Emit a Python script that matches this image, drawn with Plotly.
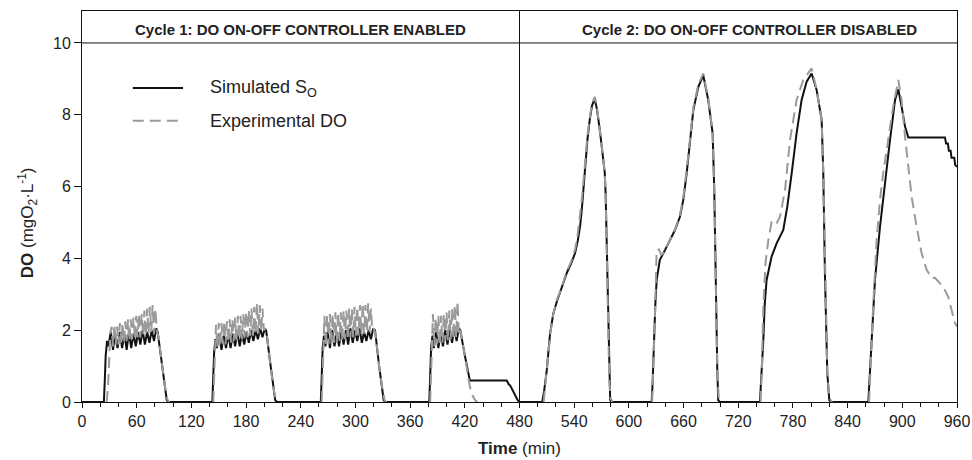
import plotly.graph_objects as go

# ---------------- data ----------------
sim_t = [
    0, 24, 25, 26, 27.5, 29, 31.5, 34, 36.5, 39, 41.5, 44, 46.5, 49, 51.5, 54, 56.5, 59, 61.5, 64, 66.5, 69, 71.5, 74, 76.5, 79, 81.5, 83, 88, 93, 95,
    143, 144, 145, 146.5, 148, 150.5, 153, 155.5, 158, 160.5, 163, 165.5, 168, 170.5, 173, 175.5, 178, 180.5, 183, 185.5, 188, 190.5, 193, 195.5, 198, 200.5, 202, 207, 212, 214,
    262, 263, 264, 265.5, 267, 269.5, 272, 274.5, 277, 279.5, 282, 284.5, 287, 289.5, 292, 294.5, 297, 299.5, 302, 304.5, 307, 309.5, 312, 314.5, 317, 319.5, 321.5, 326, 331, 333,
    381, 382, 383, 384.5, 386, 388.5, 391, 393.5, 396, 398.5, 401, 403.5, 406, 408.5, 411, 413.5, 415, 420, 425.5, 466, 468, 470, 473, 476, 478, 480,
    505, 507, 510, 513.5, 517, 521, 524.5, 528, 532, 536.5, 541, 544, 546.5, 548.5, 550, 552, 554.5, 557, 559.5, 562.5, 565, 568, 571, 573.5, 574.5, 575.5, 576.5, 577.5, 578.5, 579.5, 581,
    625, 626, 627.5, 629, 630.5, 634, 639.6, 645, 650.6, 656, 659.7, 663.4, 667, 670.7, 676.2, 681.6, 687.1, 691.9, 693.7, 695.6, 697, 698, 700,
    743.8, 745, 747.5, 749, 751.1, 756.6, 762.1, 769.4, 773.8, 778.6, 784, 789.5, 795, 800.5, 806, 811.5, 813.3, 815.1, 817.7, 819.9, 822,
    862.7, 864, 866.3, 870, 875.5, 881, 886.5, 892, 895.6, 899.2, 903, 906.6, 946.8, 948, 950, 951, 953, 954, 957, 958, 960,
]
sim_do = [
    0, 0, 0.6, 1.3, 1.7, 1.55, 1.95, 1.45, 1.9, 1.5, 1.95, 1.5, 1.9, 1.45, 1.95, 1.5, 1.9, 1.55, 1.95, 1.6, 2.0, 1.6, 1.95, 1.65, 2.0, 1.7, 2.05, 1.95, 1.0, 0.05, 0,
    0, 0.7, 1.4, 1.75, 1.5, 1.9, 1.45, 1.85, 1.5, 1.9, 1.5, 1.9, 1.55, 1.95, 1.55, 1.9, 1.6, 1.95, 1.65, 2.0, 1.7, 2.0, 1.75, 2.05, 1.8, 2.05, 2.0, 1.0, 0.05, 0,
    0, 0.7, 1.5, 1.85, 1.55, 1.95, 1.5, 2.0, 1.55, 1.95, 1.55, 2.0, 1.6, 2.0, 1.6, 2.05, 1.65, 2.0, 1.7, 2.05, 1.65, 1.95, 1.7, 2.0, 1.75, 2.05, 2.0, 1.0, 0.05, 0,
    0, 0.7, 1.5, 1.85, 1.5, 1.95, 1.5, 1.95, 1.55, 2.0, 1.6, 2.0, 1.65, 2.05, 1.7, 2.05, 2.0, 1.3, 0.6, 0.6, 0.5, 0.45, 0.3, 0.15, 0.05, 0,
    0, 0.3, 0.9, 1.9, 2.45, 2.8, 3.05, 3.3, 3.6, 3.85, 4.15, 4.5, 4.9, 5.4, 5.9, 6.6, 7.3, 7.85, 8.25, 8.45, 8.15, 7.6, 7.0, 6.4, 5.8, 4.6, 3.1, 1.7, 0.6, 0.05, 0,
    0, 0.5, 1.73, 2.7, 3.4, 3.96, 4.23, 4.5, 4.79, 5.16, 5.63, 6.37, 7.3, 8.13, 8.78, 9.1, 8.41, 7.48, 5.9, 2.66, 0.9, 0.05, 0,
    0, 0.5, 1.73, 2.7, 3.4, 4.05, 4.42, 4.79, 5.44, 6.37, 7.48, 8.41, 8.92, 9.15, 8.69, 7.86, 6.37, 3.58, 0.8, 0.05, 0,
    0, 0.6, 1.73, 3.4, 4.88, 6.18, 7.3, 8.41, 8.71, 8.23, 7.67, 7.37, 7.37, 7.2, 7.2, 7.0, 7.0, 6.8, 6.8, 6.6, 6.55,
]

exp_t = [
    27, 28.5, 30, 31, 32.5, 34, 35.5, 37, 38.5, 40, 41.5, 43, 44.5, 46, 47.5, 49, 50.5, 52, 53.5, 55, 56.5, 58, 59.5, 61, 62.5, 64, 65.5, 67, 68.5, 70, 71.5, 73, 74.5, 76, 77.5, 79, 80.5, 82, 84, 88, 92, 94, 96, None,
    144, 145, 146, 147, 148.5, 150, 151.5, 153, 154.5, 156, 157.5, 159, 160.5, 162, 163.5, 165, 166.5, 168, 169.5, 171, 172.5, 174, 175.5, 177, 178.5, 180, 181.5, 183, 184.5, 186, 187.5, 189, 190.5, 192, 193.5, 195, 196.5, 198, 199.5, 201, 203, 207, 211, 213, 215, None,
    263, 264, 265, 266, 267.5, 269, 270.5, 272, 273.5, 275, 276.5, 278, 279.5, 281, 282.5, 284, 285.5, 287, 288.5, 290, 291.5, 293, 294.5, 296, 297.5, 299, 300.5, 302, 303.5, 305, 306.5, 308, 309.5, 311, 312.5, 314, 315.5, 317, 318.5, 320, 322, 326, 330, 332, 334, None,
    382, 383, 384, 385, 386.5, 388, 389.5, 391, 392.5, 394, 395.5, 397, 398.5, 400, 401.5, 403, 404.5, 406, 407.5, 409, 410.5, 412, 413.5, 415, 420, 425.5, 429, 432, 434, None,
    506.5, 508, 510.5, 514, 517.5, 521, 525, 528.5, 532, 536.5, 541, 543.5, 546, 548, 550, 552, 554.5, 557, 559.5, 562.5, 565, 568, 571, 573.5, 574.5, 575.5, 576.5, 577.5, 578.5, 580, 582, None,
    625.5, 627, 628.5, 630.5, 633, 635.5, 637.8, 641.5, 645, 650.6, 656, 659.7, 663.4, 667, 670.7, 676.2, 681.6, 687.1, 691.9, 693.7, 695.6, 697, 698.5, 701, None,
    744.5, 746, 747.5, 750, 753, 756.6, 759, 762, 765.8, 771.3, 776.8, 784, 791.3, 800.5, 806, 811.5, 813.3, 815.1, 817.7, 820, 823, None,
    863.5, 865, 868, 871.8, 875.5, 879, 884.6, 890, 895.6, 899.2, 903, 906.6, 910.2, 915.7, 921.2, 926.7, 932.2, 935.8, 939.5, 945, 950.4, 954, 957.7, 960,
]
exp_do = [
    0, 0.4, 1.3, 1.9, 2.1, 1.55, 2.15, 1.6, 2.1, 1.6, 2.2, 1.65, 2.2, 1.65, 2.25, 1.7, 2.3, 1.7, 2.3, 1.75, 2.35, 1.75, 2.4, 1.8, 2.45, 1.8, 2.45, 1.85, 2.55, 1.85, 2.6, 1.9, 2.65, 1.95, 2.7, 1.9, 2.6, 2.0, 1.8, 0.95, 0.25, 0.05, 0, None,
    0, 0.8, 1.7, 2.15, 1.5, 2.2, 1.55, 2.2, 1.6, 2.25, 1.6, 2.25, 1.65, 2.3, 1.65, 2.3, 1.7, 2.35, 1.7, 2.4, 1.75, 2.4, 1.75, 2.45, 1.8, 2.5, 1.8, 2.55, 1.85, 2.6, 1.85, 2.65, 1.9, 2.75, 1.9, 2.7, 1.95, 2.6, 2.0, 2.05, 1.85, 0.95, 0.25, 0.05, 0, None,
    0, 0.9, 1.8, 2.4, 1.55, 2.4, 1.6, 2.45, 1.6, 2.45, 1.65, 2.5, 1.65, 2.5, 1.7, 2.5, 1.7, 2.55, 1.75, 2.55, 1.75, 2.6, 1.8, 2.6, 1.8, 2.65, 1.85, 2.65, 1.85, 2.7, 1.9, 2.75, 1.9, 2.7, 1.95, 2.75, 1.95, 2.6, 2.0, 2.05, 1.9, 1.0, 0.3, 0.05, 0, None,
    0, 0.9, 1.8, 2.45, 1.55, 2.35, 1.6, 2.4, 1.6, 2.4, 1.65, 2.45, 1.7, 2.5, 1.7, 2.55, 1.75, 2.6, 1.75, 2.7, 1.8, 2.8, 1.85, 2.0, 1.3, 0.43, 0.15, 0.03, 0, None,
    0, 0.4, 1.0, 1.95, 2.5, 2.85, 3.1, 3.35, 3.65, 3.9, 4.25, 4.6, 5.05, 5.55, 6.1, 6.75, 7.4, 7.9, 8.3, 8.5, 8.2, 7.6, 7.0, 6.4, 5.8, 4.6, 3.1, 1.7, 0.6, 0.1, 0, None,
    0, 0.9, 2.3, 4.23, 4.25, 4.1, 4.14, 4.33, 4.5, 4.8, 5.2, 5.7, 6.45, 7.4, 8.2, 8.85, 9.15, 8.45, 7.5, 5.9, 2.66, 0.9, 0.15, 0, None,
    0, 1.0, 2.66, 3.9, 4.5, 5.02, 4.95, 4.97, 5.16, 5.9, 7.3, 8.41, 8.97, 9.29, 8.7, 7.86, 6.37, 3.58, 0.8, 0.1, 0, None,
    0, 1.0, 2.66, 4.5, 5.63, 6.37, 7.3, 8.23, 8.97, 8.41, 7.39, 6.55, 5.72, 4.88, 4.14, 3.68, 3.45, 3.46, 3.35, 3.2, 2.93, 2.56, 2.2, 2.1,
]

x_tick_vals = [0, 60, 120, 180, 240, 300, 360, 420, 480, 540, 600, 660, 720, 780, 840, 900, 960]
y_tick_vals = [0, 2, 4, 6, 8, 10]
header_labels = ["Cycle 1: DO ON-OFF CONTROLLER ENABLED", "Cycle 2: DO ON-OFF CONTROLLER DISABLED"]
header_x = [240, 732]
legend_labels = ["Simulated S<sub>O</sub>", "Experimental DO"]

FONT = "Liberation Sans, Arial, sans-serif"
BLACK = "#111111"
GRAY = "#9a9a9a"

fig = go.Figure()
fig.add_trace(go.Scatter(x=sim_t, y=sim_do, mode="lines",
                         line=dict(color=BLACK, width=2), name="Simulated S<sub>O</sub>",
                         showlegend=False, hoverinfo="skip"))
fig.add_trace(go.Scatter(x=exp_t, y=exp_do, mode="lines",
                         line=dict(color=GRAY, width=2, dash="11px,6px"), name="Experimental DO",
                         showlegend=False, connectgaps=False, hoverinfo="skip"))

fig.update_layout(
    width=972, height=460,
    margin=dict(l=82, r=15, t=11, b=58, autoexpand=False),
    paper_bgcolor="white", plot_bgcolor="white",
    font=dict(family=FONT, color="#222222", size=16),
    showlegend=False,
)
fig.update_xaxes(
    range=[0, 960], tickvals=x_tick_vals, ticktext=[str(v) for v in x_tick_vals],
    automargin=False,
    showgrid=False, zeroline=False,
    showline=True, linecolor=BLACK, linewidth=1, mirror=True,
    ticks="outside", ticklen=5, tickcolor=BLACK, tickwidth=1,
    minor=dict(dtick=20, ticks="outside", ticklen=4, tickcolor=BLACK, tickwidth=1, showgrid=False),
    tickfont=dict(size=16, family=FONT, color="#222222"),
)
fig.update_yaxes(
    range=[0, 10.89], tickvals=y_tick_vals, ticktext=[str(v) for v in y_tick_vals],
    automargin=False,
    showgrid=False, zeroline=False,
    showline=True, linecolor=BLACK, linewidth=1, mirror=True,
    ticks="outside", ticklen=7, tickcolor=BLACK, tickwidth=1,
    tickfont=dict(size=16, family=FONT, color="#222222"),
)

# header band separator and cycle divider
fig.add_shape(type="line", xref="paper", yref="y", x0=0, x1=1, y0=10, y1=10,
              line=dict(color=BLACK, width=1))
fig.add_shape(type="line", xref="x", yref="paper", x0=480, x1=480, y0=0, y1=1,
              line=dict(color=BLACK, width=1))

for lbl, hx in zip(header_labels, header_x):
    fig.add_annotation(x=hx, y=10.38, xref="x", yref="y", text="<b>" + lbl + "</b>",
                       showarrow=False, font=dict(size=15, family=FONT, color="#222222"))

# legend (manual)
leg_y = [0.803, 0.719]
leg_dash = ["solid", "11px,6px"]
leg_col = [BLACK, GRAY]
for lbl, ly, dsh, col in zip(legend_labels, leg_y, leg_dash, leg_col):
    fig.add_shape(type="line", xref="paper", yref="paper", x0=0.058, x1=0.1155, y0=ly, y1=ly,
                  line=dict(color=col, width=2, dash=dsh))
    fig.add_annotation(x=0.1445, y=ly, xref="paper", yref="paper", text=lbl,
                       showarrow=False, xanchor="left", yanchor="middle",
                       font=dict(size=18, family=FONT, color="#222222"))

# axis titles
fig.add_annotation(x=0.5, y=-0.118, xref="paper", yref="paper", text="<b>Time</b> (min)",
                   showarrow=False, xanchor="center", yanchor="middle",
                   font=dict(size=17, family=FONT, color="#222222"))
fig.add_annotation(x=-0.062, y=5, xref="paper", yref="y",
                   text="<b>DO</b> (mgO<sub>2</sub>·L<sup>-1</sup>)",
                   showarrow=False, textangle=-90, xanchor="center", yanchor="middle",
                   font=dict(size=17, family=FONT, color="#222222"))

fig.write_html("out.html")
